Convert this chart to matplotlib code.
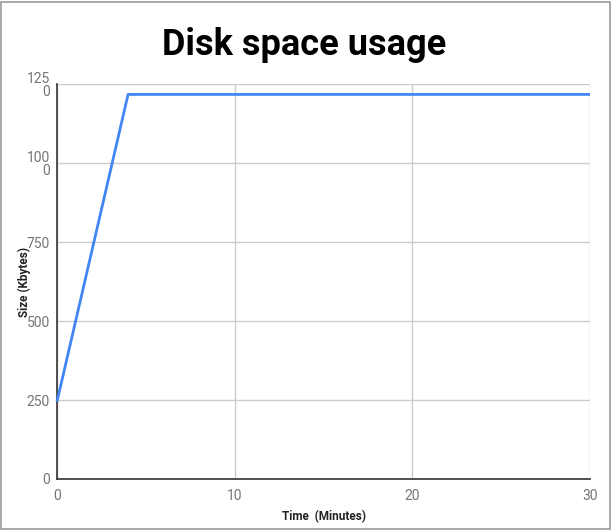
import matplotlib
matplotlib.use("Agg")
import matplotlib.pyplot as plt
from matplotlib.patches import Rectangle

time_min = [0, 4, 30]
size_kb = [245, 1217, 1217]
x_ticks = [0, 10, 20, 30]
y_ticks = [0, 250, 500, 750, 1000, 1250]
y_tick_labels = ["0", "250", "500", "750", "100\n0", "125\n0"]

plt.rcParams['font.family'] = ['Roboto', 'DejaVu Sans']

fig = plt.figure(figsize=(6.12, 5.30), dpi=100)
ax = fig.add_axes([57/612, 1 - 479/530, 533/612, 395/530])

ax.plot(time_min, size_kb, color='#4285F4', linewidth=2, clip_on=False, zorder=3,
        solid_capstyle='butt')
ax.set_xlim(0, 30)
ax.set_ylim(0, 1250)
ax.set_xticks(x_ticks)
ax.set_yticks(y_ticks)
ax.set_xticklabels([str(t) for t in x_ticks])
ax.set_yticklabels(y_tick_labels, multialignment='right', linespacing=0.95)
ax.grid(True, color='#cccccc', linewidth=1)
ax.set_axisbelow(True)
for s in ['top', 'right']:
    ax.spines[s].set_visible(False)
for s in ['left', 'bottom']:
    ax.spines[s].set_color('#333333')
    ax.spines[s].set_linewidth(1.2)
ax.tick_params(length=0, labelsize=10, colors='#757575', pad=5)
ax.tick_params(axis='x', pad=7)

ax.set_xlabel('Time  (Minutes)', fontsize=8.5, fontweight='bold', color='#222222', labelpad=5)
ax.set_ylabel('Size (Kbytes)', fontsize=8.5, fontweight='bold', color='#222222')
ax.yaxis.set_label_coords(-(57 - 31) / 533, 0.5)

fig.text(304/612, 1 - 45/530, 'Disk space usage', ha='center', va='center',
         fontsize=26, fontweight='bold', color='#000000')

fig.patches.append(Rectangle((1/612, 1/530), 609/612, 527/530, transform=fig.transFigure,
                             fill=False, edgecolor='#999999', linewidth=1.2))

fig.savefig('out.png', dpi=100)
